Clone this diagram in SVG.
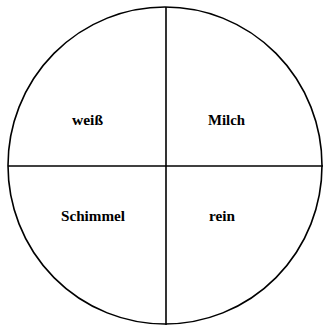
<svg xmlns="http://www.w3.org/2000/svg" width="323" height="325" viewBox="0 0 323 325">
<style>
.ln{fill:none;stroke:#000;stroke-width:1.6}
.t{font-family:"Liberation Serif","DejaVu Serif",serif;font-size:14px;font-weight:bold;fill:#000;text-anchor:middle}
</style>
<rect width="323" height="325" fill="#fff"/>
<g id="connectors">
<ellipse class="ln" cx="165" cy="165.5" rx="157" ry="158.5"/>
<line class="ln" x1="166" y1="7" x2="166" y2="325"/>
<line class="ln" x1="8" y1="166" x2="323" y2="166"/>
</g>
<g id="weiss"><text class="t" x="87.5" y="125" textLength="31" lengthAdjust="spacingAndGlyphs">weiß</text></g>
<g id="milch"><text class="t" x="226.5" y="125" textLength="37" lengthAdjust="spacingAndGlyphs">Milch</text></g>
<g id="schimmel"><text class="t" x="93" y="221" textLength="64" lengthAdjust="spacingAndGlyphs">Schimmel</text></g>
<g id="rein"><text class="t" x="222" y="221" textLength="26" lengthAdjust="spacingAndGlyphs">rein</text></g>
</svg>
